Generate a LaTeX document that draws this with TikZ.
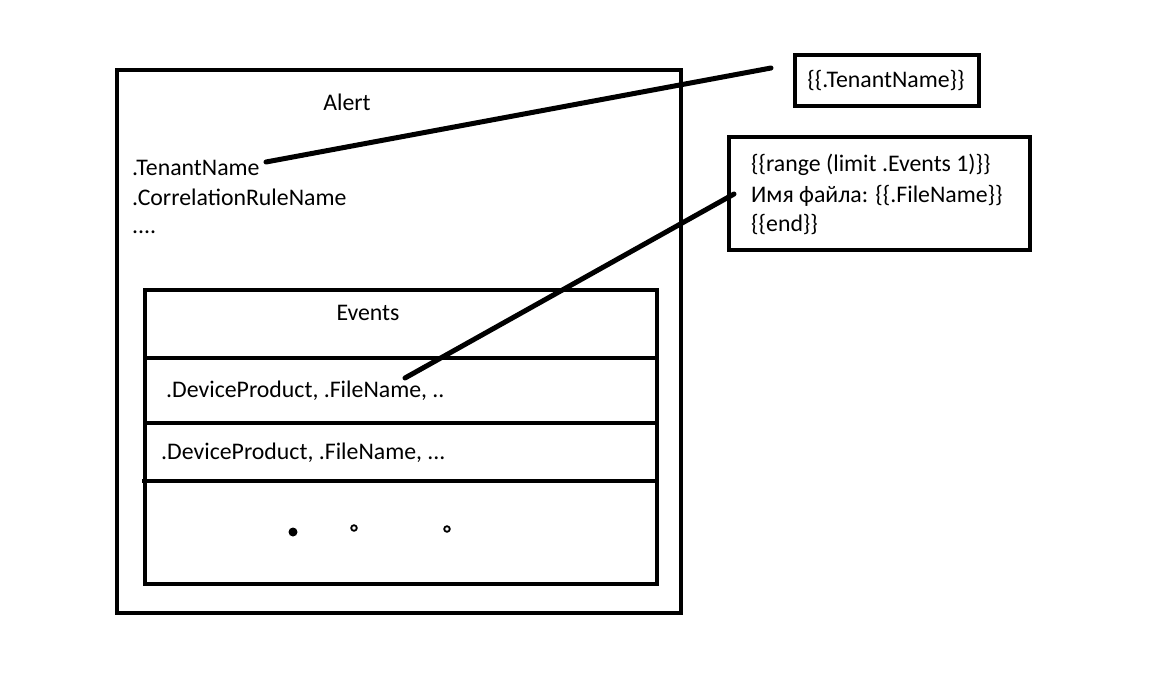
\documentclass[tikz,border=0pt]{standalone}
\usepackage{fontspec}
\setmainfont{Carlito}
\begin{document}
\begin{tikzpicture}[x=1pt,y=-1pt,
  box/.style={draw=black,line width=4pt,fill=none},
  lbl/.style={inner sep=0pt,font=\fontsize{23.8}{29}\selectfont},
  conn/.style={draw=black,line width=5pt,line cap=round}]
\useasboundingbox[fill=white] (0,0) rectangle (1171,673);
% Alert box
\draw[box] (117,70) rectangle (681,613);
\node[lbl] (alert) at (347,102) {Alert};
\node[lbl,anchor=west] (tn) at (132,168) {.TenantName};
\node[lbl,anchor=west] (crn) at (132,197) {.CorrelationRuleName};
\node[lbl,anchor=base west] (dots) at (132,233) {....};
% Events box
\draw[box] (145,290) rectangle (657,584);
\draw[box] (145,358) -- (657,358);
\draw[box] (145,423) -- (657,423);
\draw[box] (142,481) -- (657,481);
\node[lbl] (events) at (368,313) {Events};
\node[lbl,anchor=west] (row1) at (166,391) {.DeviceProduct, .FileName, ..};
\node[lbl,anchor=west] (row2) at (161,453) {.DeviceProduct, .FileName, ...};
\fill (293,532) circle (4.5);
\draw[line width=1.8pt] (354,528) circle (2.8);
\draw[line width=1.8pt] (447,529) circle (2.8);
% right boxes
\node[box,minimum width=184pt,minimum height=51pt,inner sep=0pt] (tbox) at (887,80.5) {};
\node[lbl] (ttext) at (886,81) {\{\{.TenantName\}\}};
\node[box,minimum width=301pt,minimum height=113pt,inner sep=0pt] (rbox) at (879.5,193.5) {};
\node[lbl,anchor=west] (r1) at (751,165) {\{\{range (limit .Events 1)\}\}};
\node[lbl,anchor=west] (r2) at (751,196) {Имя файла: \{\{.FileName\}\}};
\node[lbl,anchor=west] (r3) at (751,225) {\{\{end\}\}};
% connectors
\coordinate (c1a) at (266,162);
\coordinate (c1b) at (771,68);
\coordinate (c2a) at (405,378);
\coordinate (c2b) at (734,194);
\draw[conn] (c1a) -- (c1b);
\draw[conn] (c2a) -- (c2b);
\end{tikzpicture}
\end{document}
